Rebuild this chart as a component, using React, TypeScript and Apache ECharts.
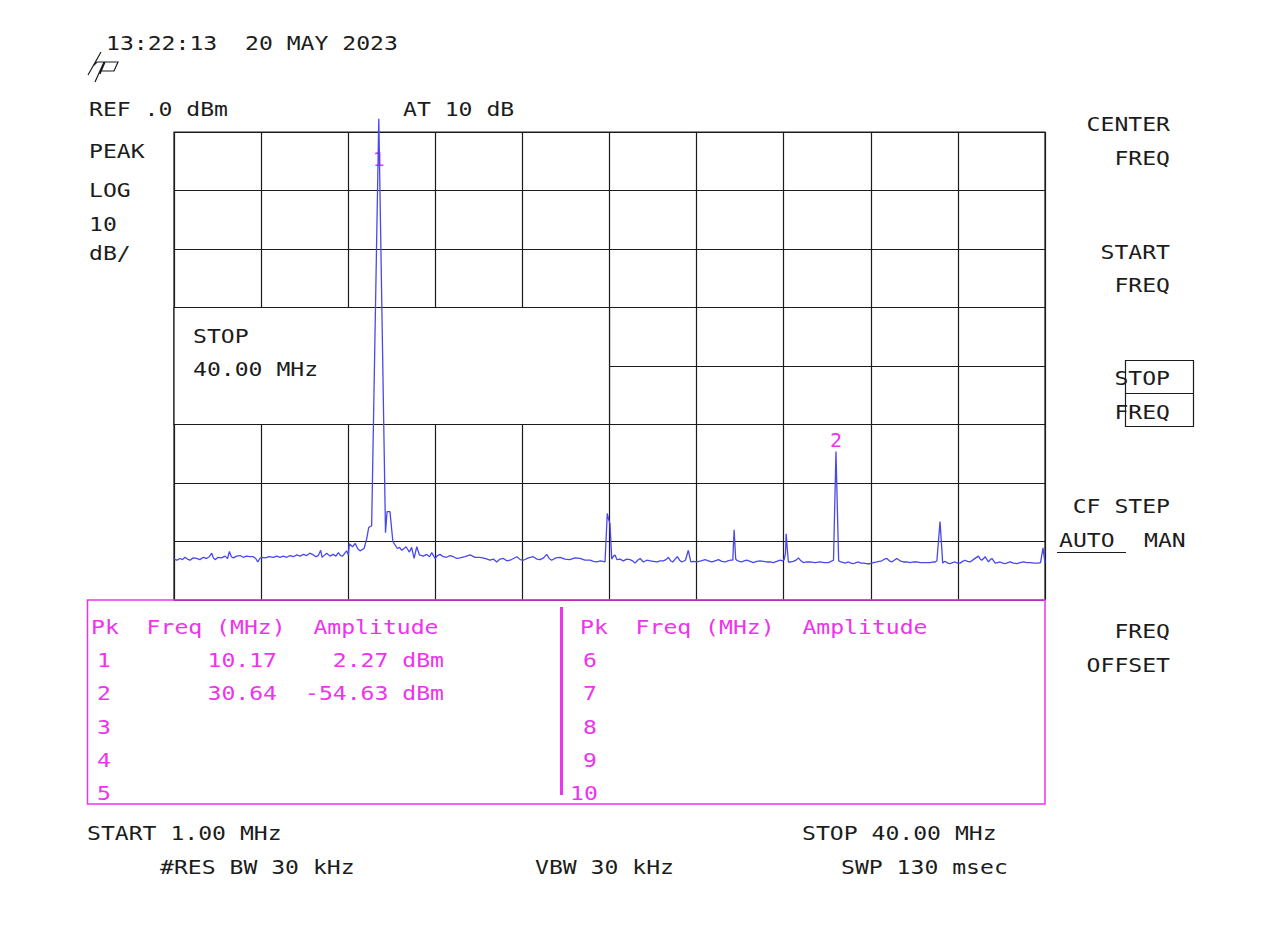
import React, { useEffect, useRef } from "react";
import * as echarts from "echarts";

// ---------- instrument settings ----------
const START_MHZ = 1.0;
const STOP_MHZ = 40.0;
const REF_DBM = 0;
const DB_PER_DIV = 10;
const X_DIVS = 10;
const Y_DIVS = 8;

// ---------- trace ----------
const traceFreqMHz = [
  1.00, 1.13, 1.27, 1.38, 1.49, 1.60, 1.72, 1.86, 2.01, 2.16, 2.31, 2.45, 2.58, 2.69, 2.76, 2.84, 2.98, 3.13, 3.28, 3.40,
  3.48, 3.57, 3.66, 3.80, 3.96, 4.10, 4.25, 4.40, 4.55, 4.66, 4.75, 4.84, 4.93, 5.10, 5.25, 5.45, 5.60, 5.75, 5.89, 6.05,
  6.20, 6.34, 6.50, 6.64, 6.80, 6.94, 7.08, 7.24, 7.35, 7.46, 7.57, 7.63, 7.69, 7.84, 7.98, 8.13, 8.25, 8.36, 8.46, 8.55,
  8.65, 8.73, 8.81, 8.85, 9.00, 9.11, 9.22, 9.33, 9.51, 9.63, 9.72, 9.85, 10.17, 10.47, 10.54, 10.67, 10.80, 11.00, 11.10, 11.20,
  11.30, 11.39, 11.54, 11.64, 11.75, 11.87, 11.99, 12.16, 12.32, 12.44, 12.54, 12.69, 12.80, 12.91, 13.06, 13.21, 13.36, 13.51, 13.66, 13.81,
  14.03, 14.26, 14.48, 14.70, 14.92, 15.15, 15.30, 15.45, 15.60, 15.75, 15.90, 16.05, 16.20, 16.35, 16.50, 16.64, 16.87, 17.09, 17.24, 17.39,
  17.55, 17.69, 17.80, 17.91, 18.10, 18.29, 18.50, 18.73, 18.95, 19.18, 19.40, 19.63, 19.78, 19.93, 20.10, 20.30, 20.40, 20.46, 20.52, 20.60,
  20.68, 20.75, 20.83, 20.97, 21.12, 21.27, 21.42, 21.53, 21.64, 21.76, 21.87, 22.02, 22.17, 22.32, 22.47, 22.62, 22.77, 22.91, 23.03, 23.14,
  23.24, 23.33, 23.44, 23.54, 23.64, 23.74, 23.90, 24.03, 24.14, 24.27, 24.41, 24.60, 24.78, 24.93, 25.08, 25.23, 25.38, 25.53, 25.68, 25.80,
  25.93, 26.02, 26.08, 26.15, 26.20, 26.31, 26.42, 26.53, 26.65, 26.80, 26.94, 27.09, 27.24, 27.39, 27.54, 27.69, 27.84, 27.99, 28.14, 28.25,
  28.32, 28.38, 28.41, 28.46, 28.51, 28.62, 28.73, 28.85, 28.96, 29.07, 29.18, 29.33, 29.48, 29.70, 29.93, 30.11, 30.30, 30.42, 30.53, 30.64,
  30.76, 30.86, 31.05, 31.20, 31.31, 31.42, 31.54, 31.65, 31.76, 31.87, 32.02, 32.17, 32.32, 32.47, 32.70, 32.82, 32.92, 33.03, 33.14, 33.25,
  33.36, 33.51, 33.66, 33.81, 33.96, 34.11, 34.26, 34.41, 34.56, 34.71, 34.86, 35.00, 35.08, 35.16, 35.30, 35.42, 35.50, 35.57, 35.66, 35.75,
  35.86, 35.97, 36.09, 36.20, 36.31, 36.42, 36.53, 36.65, 36.79, 36.90, 37.02, 37.10, 37.17, 37.25, 37.32, 37.40, 37.47, 37.55, 37.62, 37.70,
  37.77, 37.88, 37.99, 38.11, 38.22, 38.33, 38.44, 38.59, 38.74, 38.89, 39.04, 39.19, 39.33, 39.52, 39.71, 39.80, 39.91, 39.96, 40.00,
];

const traceAmpDbm = [
  -73.0, -73.2, -72.9, -73.1, -72.7, -73.0, -73.2, -72.8, -72.9, -73.1, -72.7, -72.9, -72.6, -72.0, -72.8, -73.1, -72.7, -72.8, -72.5, -72.9,
  -71.7, -72.6, -72.8, -72.5, -72.4, -72.7, -72.5, -72.6, -72.6, -72.9, -73.5, -72.9, -72.7, -72.8, -72.6, -72.7, -72.5, -72.7, -72.5, -72.7,
  -72.4, -72.6, -72.3, -72.5, -72.2, -72.4, -72.0, -72.3, -72.6, -72.4, -71.5, -72.7, -72.5, -72.0, -72.5, -72.2, -72.5, -71.9, -72.4, -72.5,
  -72.0, -71.6, -72.3, -70.4, -70.9, -70.3, -71.2, -71.6, -71.2, -69.5, -67.6, -67.3, 2.27, -68.5, -64.9, -64.9, -70.0, -71.2, -71.0, -71.5,
  -71.2, -70.9, -71.8, -71.0, -72.9, -70.9, -72.3, -72.5, -72.2, -72.6, -71.9, -72.9, -72.4, -72.2, -72.6, -72.7, -72.4, -72.6, -72.9, -72.8,
  -72.6, -72.3, -72.7, -72.7, -72.9, -73.2, -73.0, -73.5, -73.0, -72.9, -73.3, -73.2, -72.9, -72.6, -73.1, -73.2, -72.8, -72.6, -73.0, -73.1,
  -72.8, -72.2, -72.9, -73.2, -72.8, -72.7, -73.0, -73.1, -72.8, -72.9, -73.2, -73.2, -73.4, -73.5, -73.3, -73.5, -65.2, -66.2, -66.9, -73.0,
  -72.5, -72.3, -73.1, -73.0, -73.3, -73.0, -73.1, -73.3, -73.7, -73.2, -72.9, -73.5, -73.2, -73.3, -73.4, -73.5, -73.3, -73.3, -73.1, -72.7,
  -73.3, -73.5, -73.0, -72.6, -73.2, -73.5, -73.2, -71.5, -73.5, -73.4, -73.5, -73.3, -73.1, -73.3, -73.5, -73.3, -73.1, -73.4, -73.5, -73.3,
  -73.2, -73.2, -68.0, -73.0, -73.2, -73.4, -73.5, -73.3, -73.2, -73.4, -73.6, -73.4, -73.3, -73.4, -73.5, -73.5, -73.6, -73.4, -73.2, -73.3,
  -73.1, -72.0, -68.7, -71.2, -73.5, -73.5, -73.4, -73.2, -72.8, -73.3, -73.6, -73.5, -73.5, -73.6, -73.5, -73.6, -73.6, -73.4, -73.2, -54.63,
  -73.3, -73.5, -73.7, -73.5, -73.7, -73.8, -73.6, -73.5, -73.7, -73.7, -73.8, -73.8, -73.6, -73.5, -73.3, -73.0, -72.9, -73.3, -73.5, -73.2,
  -72.9, -73.3, -73.5, -73.5, -73.6, -73.5, -73.5, -73.6, -73.6, -73.6, -73.6, -73.5, -73.5, -73.3, -66.6, -73.7, -73.4, -73.5, -73.7, -73.8,
  -73.6, -73.5, -73.7, -73.7, -73.4, -73.2, -73.4, -73.5, -73.1, -72.8, -72.5, -73.0, -73.2, -72.9, -72.6, -73.1, -73.5, -73.1, -72.9, -73.3,
  -73.7, -73.6, -73.5, -73.7, -73.8, -73.6, -73.5, -73.7, -73.8, -73.6, -73.5, -73.6, -73.6, -73.7, -73.7, -73.6, -71.1, -72.5, -73.7,
];

// ---------- peak markers ----------
const markerNumbers = [1, 2];
const markerFreqMHz = [10.17, 30.64];
const markerAmpDbm = [2.27, -54.63];
const tableRowsLeft = [1, 2, 3, 4, 5];
const tableRowsRight = [6, 7, 8, 9, 10];
const tableHeader = "Pk  Freq (MHz)  Amplitude";

// ---------- screen annotations ----------
const timestampLabel = "13:22:13  20 MAY 2023";
const refLabel = "REF .0 dBm";
const attenLabel = "AT 10 dB";
const scaleLabels = ["PEAK", "LOG", "10", "dB/"];
const entryLabels = ["STOP", "40.00 MHz"];
const softkeyLabels = ["CENTER", "FREQ", "START", "FREQ", "STOP", "FREQ", "CF STEP", "FREQ", "OFFSET"];
const cfStepModes = ["AUTO", "MAN"];
const footerTop = ["START 1.00 MHz", "STOP 40.00 MHz"];
const footerBottom = ["#RES BW 30 kHz", "VBW 30 kHz", "SWP 130 msec"];

// ---------- styles ----------
const INK = "#1c1c1c";
const TRACE = "#4848ee";
const MAGENTA = "#ee33ee";
const MONO = '"DejaVu Sans Mono", "Liberation Mono", monospace';
const FS = 20;
const SX = 1.155;

const HP_LOGO_D =
  "M15 1 L2 24 M7 15 L11 11 L19 11 L14 23 M18 11 L32 11 L28 20 L14 20 M18 11 L9 31";
try {
  echarts.graphic.registerShape("hpLogo", echarts.graphic.extendPath(HP_LOGO_D, {}) as any);
} catch (e) {
  /* already registered */
}

function txt(text: string, x: number, y: number, align: string = "left", color: string = INK) {
  return {
    type: "text",
    x,
    y,
    scaleX: SX,
    z: 100,
    silent: true,
    style: {
      text,
      fill: color,
      font: `${FS}px ${MONO}`,
      textAlign: align,
      align,
      textVerticalAlign: "middle",
      verticalAlign: "middle",
    },
  };
}

function buildOption() {
  const xDivMHz = (STOP_MHZ - START_MHZ) / X_DIVS;
  const bottomDbm = REF_DBM - DB_PER_DIV * Y_DIVS;
  const traceData = traceFreqMHz.map((f, i) => [f, traceAmpDbm[i]]);

  const rowY = (i: number) => 660 + i * 33.3;
  const graphics: any[] = [];

  // header
  graphics.push(txt(timestampLabel, 106, 43));
  graphics.push({
    type: "hpLogo",
    x: 86,
    y: 51,
    z: 100,
    silent: true,
    style: { stroke: INK, fill: null, lineWidth: 1.2 },
  });
  graphics.push(txt(refLabel, 89, 109));
  graphics.push(txt(attenLabel, 403, 109));
  const scaleY = [151.5, 190, 224.5, 253];
  scaleLabels.forEach((s, i) => graphics.push(txt(s, 89, scaleY[i])));

  // active entry box text
  graphics.push(txt(entryLabels[0], 193, 336));
  graphics.push(txt(entryLabels[1], 193, 369));

  // softkey menu
  const skY = [124, 158.5, 252, 285, 378, 412, 506.5, 631, 665.5];
  softkeyLabels.forEach((s, i) => graphics.push(txt(s, 1170, skY[i], "right")));
  graphics.push(txt(cfStepModes[0], 1059, 540));
  graphics.push(txt(cfStepModes[1], 1144, 540));
  graphics.push({
    type: "line",
    z: 100,
    silent: true,
    shape: { x1: 1057, y1: 552.5, x2: 1126, y2: 552.5 },
    style: { stroke: INK, lineWidth: 1.2 },
  });
  graphics.push({
    type: "rect",
    z: 99,
    silent: true,
    shape: { x: 1125.5, y: 360.5, width: 68, height: 66 },
    style: { stroke: INK, fill: null, lineWidth: 1.2 },
  });
  graphics.push({
    type: "line",
    z: 99,
    silent: true,
    shape: { x1: 1125.5, y1: 393.5, x2: 1193.5, y2: 393.5 },
    style: { stroke: INK, lineWidth: 1.2 },
  });

  // marker table
  graphics.push({
    type: "rect",
    z: 100,
    silent: true,
    shape: { x: 87.5, y: 600, width: 957.5, height: 204 },
    style: { stroke: MAGENTA, fill: null, lineWidth: 1.5 },
  });
  graphics.push({
    type: "line",
    z: 100,
    silent: true,
    shape: { x1: 561.5, y1: 607, x2: 561.5, y2: 795 },
    style: { stroke: MAGENTA, lineWidth: 3 },
  });
  graphics.push(txt(tableHeader, 91, 626.7, "left", MAGENTA));
  graphics.push(txt(tableHeader, 580, 626.7, "left", MAGENTA));
  tableRowsLeft.forEach((n, i) => {
    graphics.push(txt(String(n), 97, rowY(i), "left", MAGENTA));
    const k = markerNumbers.indexOf(n);
    if (k >= 0) {
      graphics.push(txt(markerFreqMHz[k].toFixed(2), 277, rowY(i), "right", MAGENTA));
      graphics.push(txt(`${markerAmpDbm[k].toFixed(2)} dBm`, 444, rowY(i), "right", MAGENTA));
    }
  });
  tableRowsRight.forEach((n, i) => {
    const s = String(n);
    graphics.push(txt(s, s.length > 1 ? 570 : 583, rowY(i), "left", MAGENTA));
  });

  // footer
  graphics.push(txt(footerTop[0], 87, 833));
  graphics.push(txt(footerTop[1], 802, 833));
  graphics.push(txt(footerBottom[0], 160, 867));
  graphics.push(txt(footerBottom[1], 535, 867));
  graphics.push(txt(footerBottom[2], 841, 867));

  const gridLine = { color: INK, width: 1.2 };

  return {
    animation: false,
    backgroundColor: "#ffffff",
    grid: {
      left: 174,
      top: 132,
      width: 871,
      height: 468,
      show: true,
      borderColor: INK,
      borderWidth: 1.2,
      backgroundColor: "transparent",
      containLabel: false,
    },
    xAxis: [
      {
        type: "value",
        min: START_MHZ,
        max: STOP_MHZ,
        show: false,
        splitLine: { show: false },
      },
      {
        type: "value",
        min: 0,
        max: X_DIVS,
        interval: 1,
        axisLine: { show: false },
        axisTick: { show: false },
        axisLabel: { show: false },
        splitLine: { show: true, lineStyle: gridLine },
      },
    ],
    yAxis: {
      type: "value",
      min: bottomDbm,
      max: REF_DBM,
      interval: DB_PER_DIV,
      axisLine: { show: false },
      axisTick: { show: false },
      axisLabel: { show: false },
      splitLine: { show: true, lineStyle: gridLine },
    },
    series: [
      {
        type: "line",
        xAxisIndex: 0,
        yAxisIndex: 0,
        data: traceData,
        showSymbol: false,
        symbol: "none",
        clip: false,
        silent: true,
        z: 3,
        lineStyle: { color: TRACE, width: 1.3 },
        markArea: {
          silent: true,
          z: 1,
          itemStyle: { color: "#ffffff", borderColor: INK, borderWidth: 1.2 },
          data: [
            [
              { xAxis: START_MHZ, yAxis: REF_DBM - 3 * DB_PER_DIV },
              { xAxis: START_MHZ + 5 * xDivMHz, yAxis: REF_DBM - 5 * DB_PER_DIV },
            ],
          ],
        },
        markPoint: {
          silent: true,
          z: 2,
          symbol: "rect",
          symbolSize: 1,
          itemStyle: { color: "rgba(0,0,0,0)" },
          data: markerNumbers.map((n, i) => ({
            coord: [markerFreqMHz[i], Math.min(markerAmpDbm[i], REF_DBM)],
            value: n,
            label: {
              show: true,
              position: "inside",
              formatter: String(n),
              color: MAGENTA,
              fontFamily: MONO,
              fontSize: FS,
              offset: markerAmpDbm[i] > REF_DBM ? [0, 27] : [0, -12],
            },
          })),
        },
      },
    ],
    graphic: { elements: graphics },
  };
}

export default function App() {
  const ref = useRef<HTMLDivElement>(null);
  useEffect(() => {
    if (!ref.current) return;
    const chart = echarts.init(ref.current, null, { renderer: "svg" });
    chart.setOption(buildOption() as any);
    return () => chart.dispose();
  }, []);
  return (
    <div
      ref={ref}
      style={{ position: "fixed", left: 0, top: 0, width: 1274, height: 941, background: "#fff" }}
    />
  );
}
